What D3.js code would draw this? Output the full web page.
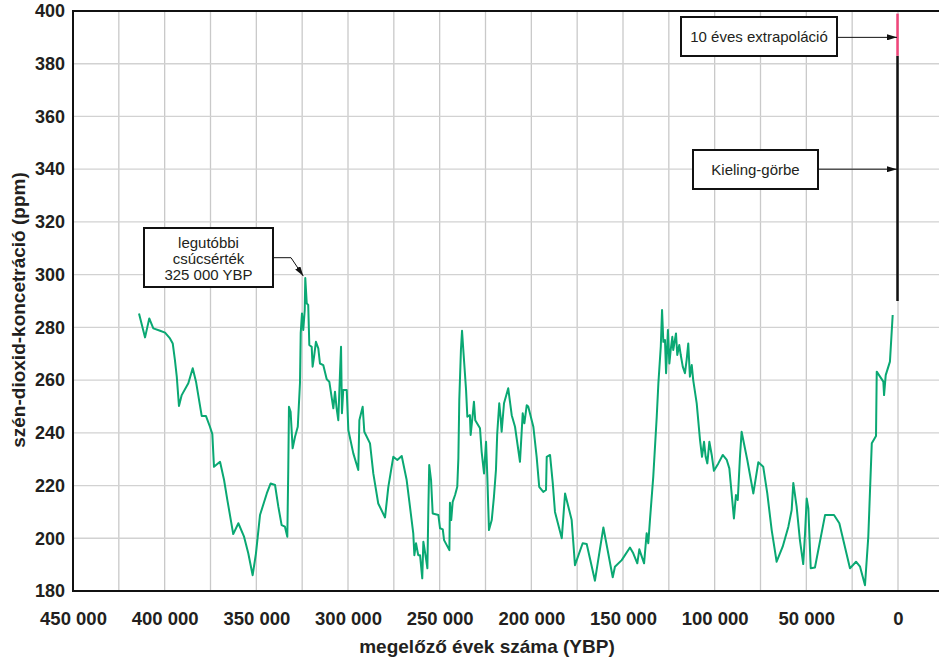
<!DOCTYPE html>
<html>
<head>
<meta charset="utf-8">
<script src="https://cdn.jsdelivr.net/npm/d3@7"></script>
<style>
  body { margin: 0; background: #fff; }
  text { font-family: "Liberation Sans", Arial, Helvetica, sans-serif; fill: #231f20; }
</style>
</head>
<body>
<div id="chart"></div>
<script>
// Vostok jégmag adatok (évek a jelen előtt, ppm)
var vostokYears = [
  414000, 410700, 408400, 406200, 402500, 399800, 397100, 395600, 394400, 393400,
  392200, 390700, 387100, 384700, 382900, 379800, 377500, 375300, 374000, 373100,
  369800, 367600, 365800, 362600, 359800, 356700, 354400, 352000, 350200, 348000,
  344300, 342200, 339800, 338000, 336200, 334400, 333100, 332600, 332200, 331300,
  330200, 328900, 327400, 326200, 325800, 325100, 324400, 323600, 323300, 322500,
  321700, 321100, 319800, 319300, 318400, 317500, 316200, 315300, 313500, 311600,
  310200, 308000, 307100, 306200, 305300, 304400, 303800, 303300, 302600, 300700,
  299800, 297100, 294400, 293800, 292000, 291100, 288000, 286200, 283500, 279800,
  278000, 275300, 273100, 270700, 268000, 266200, 264400, 263800, 262900, 261700,
  260700, 259500, 258900, 257600, 256700, 256200, 255700, 254700, 253800, 250700,
  249800, 248300, 247600, 244700, 244400, 243700, 242900, 241600, 240400, 239800,
  239300, 238400, 237800, 237100, 235600, 234900, 233500, 233100, 232000, 231300,
  230600, 228000, 227100, 225800, 224700, 224000, 223100, 221600, 220400, 219300,
  218600, 217500, 216700, 216200, 214900, 212600, 210700, 208900, 206200, 204700,
  203800, 202500, 201700, 198900, 197100, 195700, 193500, 192000, 191600, 189800,
  188300, 187100, 183400, 181600, 178000, 176200, 172000, 169800, 165300, 160700,
  155600, 154400, 150700, 146200, 144400, 142200, 141100, 138500, 137100, 136200,
  135300, 133500, 131600, 130700, 129400, 128700, 128000, 127100, 126500, 125500,
  124700, 124000, 123100, 122600, 121100, 120400, 119300, 118500, 117400, 116200,
  115300, 114400, 113500, 112500, 111700, 109800, 108000, 106900, 105800, 104900,
  104000, 102900, 101600, 100400, 98000, 95600, 93400, 92000, 89500, 88400,
  87400, 86200, 85300, 82200, 78900, 76200, 73500, 71300, 68900, 66200,
  62900, 59800, 58000, 57100, 55300, 53500, 51700, 50700, 49800, 48900,
  47600, 45300, 39800, 34900, 32000, 26200, 22900, 20700, 18000, 16200,
  14300, 12000, 11600, 8000, 7600, 6700, 4400, 2900
];
var vostokPpm = [
  285.3, 276.2, 283.4, 279.6, 278.7, 278.0, 275.8, 273.9, 267.6, 261.3,
  250.2, 254.3, 258.8, 264.5, 259.4, 246.4, 246.4, 242.3, 239.5, 227.1,
  229.0, 222.1, 214.5, 201.6, 205.7, 200.6, 194.3, 186.0, 194.3, 208.8,
  217.0, 220.8, 220.2, 212.0, 205.0, 204.4, 200.6, 225.2, 249.9, 248.0,
  234.1, 238.5, 242.3, 258.8, 277.7, 285.3, 279.0, 286.6, 298.7, 289.1,
  288.5, 273.3, 272.6, 265.1, 269.5, 274.5, 272.0, 266.3, 265.7, 260.3,
  259.4, 249.3, 255.6, 249.3, 244.8, 261.9, 272.6, 247.4, 256.2, 256.2,
  241.0, 232.2, 225.9, 244.8, 249.9, 240.4, 236.0, 224.6, 213.2, 207.9,
  219.5, 230.9, 229.7, 231.2, 222.1, 212.0, 201.9, 193.6, 198.1, 193.6,
  193.6, 184.8, 198.7, 193.0, 188.6, 210.0, 227.8, 222.1, 209.4, 208.8,
  203.8, 203.4, 199.3, 195.5, 213.5, 206.9, 213.8, 216.4, 219.5, 230.3,
  252.4, 271.4, 278.7, 271.4, 256.2, 246.1, 246.7, 239.2, 246.7, 251.8,
  244.8, 241.7, 232.8, 224.6, 236.6, 223.3, 203.1, 206.9, 215.7, 225.9,
  239.8, 251.2, 245.5, 240.4, 251.2, 256.9, 246.7, 242.3, 229.0, 247.4,
  243.6, 250.5, 250.0, 242.3, 230.9, 219.5, 217.6, 218.3, 230.9, 231.6,
  220.8, 210.0, 200.0, 217.0, 206.9, 189.8, 198.1, 197.8, 183.9, 204.1,
  185.2, 189.2, 191.7, 196.5, 194.3, 190.5, 195.8, 190.5, 201.9, 198.1,
  206.9, 223.3, 246.1, 258.8, 272.6, 286.6, 274.5, 275.2, 262.6, 279.0,
  266.3, 271.4, 276.4, 271.4, 277.7, 269.5, 273.3, 269.5, 265.1, 262.6,
  267.6, 273.9, 261.3, 265.7, 260.0, 251.2, 237.3, 230.9, 236.6, 230.9,
  228.4, 236.6, 231.6, 225.6, 228.4, 231.6, 229.7, 226.5, 207.5, 216.4,
  214.5, 230.9, 240.4, 229.7, 217.0, 228.8, 227.1, 217.0, 203.1, 191.1,
  196.8, 204.4, 210.7, 221.0, 212.0, 199.3, 190.2, 201.9, 215.1, 211.3,
  188.6, 188.9, 208.8, 208.8, 205.7, 188.6, 191.1, 189.2, 182.2, 200.6,
  236.0, 238.8, 263.2, 259.4, 254.3, 261.9, 267.0, 284.7
];

// Keeling-görbe és extrapoláció (év 0-nál)
var keelingPpm = [290, 383];
var extrapPpm = [383, 399];

var xTicks = [450000, 400000, 350000, 300000, 250000, 200000, 150000, 100000, 50000, 0];
var yTicks = [180, 200, 220, 240, 260, 280, 300, 320, 340, 360, 380, 400];

var svgWidth = 939;
var svgHeight = 658;

var margin = { top: 11, left: 73, bottom: 67 };
var plotBottom = svgHeight - margin.bottom;   // 591
var plotRight = svgWidth;

var svg = d3.select("#chart")
  .append("svg")
  .attr("width", svgWidth)
  .attr("height", svgHeight);

var x = d3.scaleLinear().domain([450000, 0]).range([margin.left, 898]);
var y = d3.scaleLinear().domain([180, 400]).range([plotBottom, margin.top]);

var huLocale = d3.formatLocale({ decimal: ",", thousands: " ", grouping: [3], currency: ["", " Ft"] });
var fmt = huLocale.format(",d");

// rácsvonalak
var grid = svg.append("g").attr("class", "grid");
grid.selectAll("line.v")
  .data(d3.range(425000, -1, -25000))
  .enter().append("line")
  .attr("x1", d => x(d)).attr("x2", d => x(d))
  .attr("y1", y(400)).attr("y2", y(180))
  .attr("stroke", "#c9c9c9").attr("stroke-width", 1.3);
grid.selectAll("line.h")
  .data(d3.range(200, 400, 20))
  .enter().append("line")
  .attr("x1", margin.left).attr("x2", plotRight)
  .attr("y1", d => y(d)).attr("y2", d => y(d))
  .attr("stroke", "#d2d2d2").attr("stroke-width", 1.3);

// keret
svg.append("path")
  .attr("d", `M${plotRight},${y(400)} H${margin.left} V${y(180)} H${plotRight}`)
  .attr("fill", "none").attr("stroke", "#111").attr("stroke-width", 2);

// tengelyek
var xAxis = svg.append("g")
  .attr("transform", `translate(0, ${plotBottom})`)
  .call(d3.axisBottom(x).tickValues(xTicks).tickSize(0).tickPadding(21).tickFormat(fmt));
xAxis.select(".domain").remove();
xAxis.selectAll("text")
  .style("font-size", "18.5px").style("font-weight", "bold").attr("fill", "#231f20");

var yAxis = svg.append("g")
  .attr("transform", `translate(${margin.left}, 0)`)
  .call(d3.axisLeft(y).tickValues(yTicks).tickSize(0).tickPadding(8));
yAxis.select(".domain").remove();
yAxis.selectAll("text")
  .style("font-size", "18px").style("font-weight", "bold").attr("fill", "#231f20");

// tengelycímek
svg.append("text")
  .attr("x", 487).attr("y", 653)
  .attr("text-anchor", "middle")
  .style("font-size", "19px").style("font-weight", "bold")
  .text("megelőző évek száma (YBP)");

svg.append("text")
  .attr("transform", "translate(25, 310) rotate(-90)")
  .attr("text-anchor", "middle")
  .style("font-size", "19px").style("font-weight", "bold")
  .text("szén-dioxid-koncetráció (ppm)");

// Vostok görbe
var vostok = d3.zip(vostokYears, vostokPpm);
var line = d3.line().x(d => x(d[0])).y(d => y(d[1]));
svg.append("path")
  .datum(vostok)
  .attr("d", line)
  .attr("fill", "none")
  .attr("stroke", "#0aa873")
  .attr("stroke-width", 2)
  .attr("stroke-linejoin", "round");

// Keeling + extrapoláció
svg.append("line")
  .attr("x1", x(0) - 0.5).attr("x2", x(0) - 0.5)
  .attr("y1", y(keelingPpm[0])).attr("y2", y(keelingPpm[1]))
  .attr("stroke", "#111").attr("stroke-width", 2.5);
svg.append("line")
  .attr("x1", x(0) - 0.5).attr("x2", x(0) - 0.5)
  .attr("y1", y(extrapPpm[0])).attr("y2", y(extrapPpm[1]))
  .attr("stroke", "#f0457a").attr("stroke-width", 2.5);

// nyílhegy
svg.append("defs").append("marker")
  .attr("id", "arrow")
  .attr("viewBox", "0 0 10 6")
  .attr("refX", 10).attr("refY", 3)
  .attr("markerWidth", 10).attr("markerHeight", 6)
  .attr("markerUnits", "userSpaceOnUse")
  .attr("orient", "auto")
  .append("path").attr("d", "M0,0 L10,3 L0,6 Z").attr("fill", "#111");

function box(x0, y0, w, h) {
  svg.append("rect")
    .attr("x", x0).attr("y", y0).attr("width", w).attr("height", h)
    .attr("fill", "#fff").attr("stroke", "#111").attr("stroke-width", 2);
}

// 10 éves extrapoláció
box(681, 17, 156, 39);
svg.append("text").attr("x", 759).attr("y", 42).attr("text-anchor", "middle")
  .style("font-size", "15px").text("10 éves extrapoláció");
svg.append("line")
  .attr("x1", 837).attr("y1", y(390)).attr("x2", x(0) - 1).attr("y2", y(390))
  .attr("stroke", "#111").attr("stroke-width", 1)
  .attr("marker-end", "url(#arrow)");

// Kieling-görbe
box(693, 150, 125, 39);
svg.append("text").attr("x", 755.5).attr("y", 175).attr("text-anchor", "middle")
  .style("font-size", "15px").text("Kieling-görbe");
svg.append("line")
  .attr("x1", 818).attr("y1", y(340)).attr("x2", x(0) - 1).attr("y2", y(340))
  .attr("stroke", "#111").attr("stroke-width", 1)
  .attr("marker-end", "url(#arrow)");

// legutóbbi csúcsérték
box(144, 228, 129, 59);
var peakLines = ["legutóbbi", "csúcsérték", "325 000 YBP"];
svg.append("g").selectAll("text")
  .data(peakLines)
  .enter().append("text")
  .attr("x", 208.5)
  .attr("y", (d, i) => 248 + i * 16)
  .attr("text-anchor", "middle")
  .style("font-size", "15px")
  .text(d => d);
svg.append("path")
  .attr("d", `M273,257.7 H291 L${x(323300) - 2},${y(298.7) - 2}`)
  .attr("fill", "none").attr("stroke", "#111").attr("stroke-width", 1)
  .attr("marker-end", "url(#arrow)");
</script>
</body>
</html>
